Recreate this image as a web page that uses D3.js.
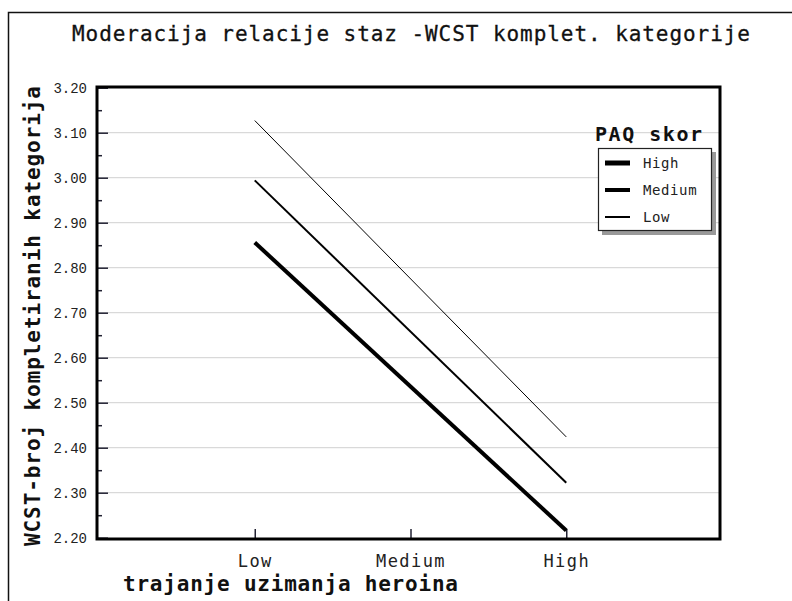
<!DOCTYPE html>
<html>
<head>
<meta charset="utf-8">
<script src="https://cdn.jsdelivr.net/npm/d3@7"></script>
<style>
  body { margin: 0; background: #fff; }
</style>
</head>
<body>
<div id="main-container"></div>
<script>
// DATA
const categories = ["Low", "Medium", "High"];
const seriesNames = ["High", "Medium", "Low"];
const lowValues = [3.127, 2.424];      // PAQ skor Low: at Low / High trajanje
const mediumValues = [2.994, 2.322];
const highValues = [2.856, 2.216];
const lineEnds = ["Low", "High"];
const yTicks = [2.20, 2.30, 2.40, 2.50, 2.60, 2.70, 2.80, 2.90, 3.00, 3.10, 3.20];

const series = [
    {name: "High", values: highValues, width: 4, legendWidth: 5},
    {name: "Medium", values: mediumValues, width: 2, legendWidth: 4},
    {name: "Low", values: lowValues, width: 1, legendWidth: 2}
];

// CONSTANTS
const W = 792, H = 601;
const plot = {left: 97, top: 87, right: 720, bottom: 539};
const mono = "'DejaVu Sans Mono', monospace";

const svg = d3.select("#main-container")
    .append("svg")
        .attr("width", W)
        .attr("height", H)
        .style("display", "block");

svg.append("rect").attr("width", W).attr("height", H).attr("fill", "#fff");

// outer frame
svg.append("rect")
    .attr("x", 8.5).attr("y", 12.5)
    .attr("width", 800).attr("height", 620)
    .attr("fill", "none").attr("stroke", "#111").attr("stroke-width", 1.5);

const x = d3.scalePoint()
    .domain(categories)
    .range([plot.left + 2, plot.right + 2])
    .padding(1);

const y = d3.scaleLinear()
    .domain([2.20, 3.20])
    .range([537.7, 87.7]);

// gridlines
svg.append("g")
    .selectAll("line")
    .data(yTicks.slice(1, -1))
    .enter()
    .append("line")
    .attr("x1", plot.left).attr("x2", plot.right)
    .attr("y1", d => y(d)).attr("y2", d => y(d))
    .attr("stroke", "#d9d9d9").attr("stroke-width", 1.2);

// y axis ticks inside plot
svg.append("g")
    .attr("transform", `translate(${plot.left}, 0)`)
    .call(d3.axisRight(y).tickValues(yTicks).tickSize(11).tickFormat(""))
    .call(g => g.select(".domain").remove())
    .call(g => g.selectAll(".tick line").attr("stroke", "#223").attr("stroke-width", 1.5));

const minorTicks = d3.range(0, 10).map(i => 2.25 + i * 0.1).filter(v => v < 3.2);
svg.append("g")
    .attr("transform", `translate(${plot.left}, 0)`)
    .call(d3.axisRight(y).tickValues(minorTicks).tickSize(5).tickFormat(""))
    .call(g => g.select(".domain").remove())
    .call(g => g.selectAll(".tick line").attr("stroke", "#223").attr("stroke-width", 1.5));

// y tick labels
svg.append("g")
    .call(d3.axisLeft(y).tickValues(yTicks).tickSize(0).tickPadding(0).tickFormat(d3.format(".2f")))
    .attr("transform", `translate(${plot.left - 10}, 0)`)
    .call(g => g.select(".domain").remove())
    .call(g => g.selectAll("text")
        .attr("font-family", "'Liberation Mono', monospace")
        .attr("font-size", 14)
        .attr("fill", "#222"));

// x axis ticks (upward, inside)
svg.append("g")
    .attr("transform", `translate(0, ${plot.bottom})`)
    .call(d3.axisTop(x).tickSize(10).tickFormat(""))
    .call(g => g.select(".domain").remove())
    .call(g => g.selectAll(".tick line").attr("stroke", "#223").attr("stroke-width", 1.5));

svg.append("g")
    .attr("transform", `translate(0, ${plot.bottom})`)
    .call(d3.axisBottom(x).tickSize(0).tickPadding(0))
    .call(g => g.select(".domain").remove())
    .call(g => g.selectAll("text")
        .attr("dy", 28)
        .attr("font-family", mono)
        .attr("font-size", 17)
        .attr("letter-spacing", 1.4)
        .attr("fill", "#222"));

// lines
const line = d3.line()
    .x((d, i) => x(lineEnds[i]))
    .y(d => y(d));

svg.append("g")
    .selectAll("path")
    .data(series)
    .enter()
    .append("path")
    .attr("d", d => line(d.values))
    .attr("fill", "none")
    .attr("stroke", "#000")
    .attr("stroke-width", d => d.width);

// plot frame
svg.append("rect")
    .attr("x", plot.left).attr("y", plot.top)
    .attr("width", plot.right - plot.left).attr("height", plot.bottom - plot.top)
    .attr("fill", "none").attr("stroke", "#000").attr("stroke-width", 3);

// title
svg.append("text")
    .attr("x", 72).attr("y", 41)
    .attr("textLength", 678).attr("lengthAdjust", "spacing")
    .attr("font-family", mono)
    .attr("font-size", 21)
    .attr("stroke", "#111").attr("stroke-width", 0.3)
    .attr("fill", "#111")
    .text("Moderacija relacije staz -WCST komplet. kategorije");

// axis titles
svg.append("text")
    .attr("x", 123).attr("y", 591)
    .attr("textLength", 335).attr("lengthAdjust", "spacing")
    .attr("font-family", mono)
    .attr("font-weight", "bold")
    .attr("font-size", 21)
    .attr("fill", "#111")
    .text("trajanje uzimanja heroina");

svg.append("text")
    .attr("transform", "translate(40, 546) rotate(-90)")
    .attr("textLength", 460).attr("lengthAdjust", "spacing")
    .attr("font-family", mono)
    .attr("font-weight", "bold")
    .attr("font-size", 21)
    .attr("fill", "#111")
    .text("WCST-broj kompletiranih kategorija");

// legend
const legend = svg.append("g");
legend.append("rect")
    .attr("x", 602).attr("y", 152).attr("width", 114).attr("height", 83)
    .attr("fill", "#999");
legend.append("rect")
    .attr("x", 598.5).attr("y", 148.5).attr("width", 113).attr("height", 82)
    .attr("fill", "#fff").attr("stroke", "#222").attr("stroke-width", 1.2);
legend.append("text")
    .attr("x", 595).attr("y", 141)
    .attr("textLength", 107).attr("lengthAdjust", "spacing")
    .attr("font-family", mono)
    .attr("font-weight", "bold")
    .attr("font-size", 20)
    .attr("fill", "#111")
    .text("PAQ skor");

const legendY = d3.scalePoint().domain(seriesNames).range([163, 217]);
legend.selectAll("line.item")
    .data(series)
    .enter()
    .append("line")
    .attr("x1", 605).attr("x2", 630)
    .attr("y1", d => legendY(d.name)).attr("y2", d => legendY(d.name))
    .attr("stroke", "#000")
    .attr("stroke-width", d => d.legendWidth);
legend.selectAll("text.item")
    .data(series)
    .enter()
    .append("text")
    .attr("x", 643)
    .attr("y", d => legendY(d.name) + 5)
    .attr("font-family", mono)
    .attr("font-size", 14)
    .attr("letter-spacing", 0.6)
    .attr("fill", "#222")
    .text(d => d.name);
</script>
</body>
</html>
